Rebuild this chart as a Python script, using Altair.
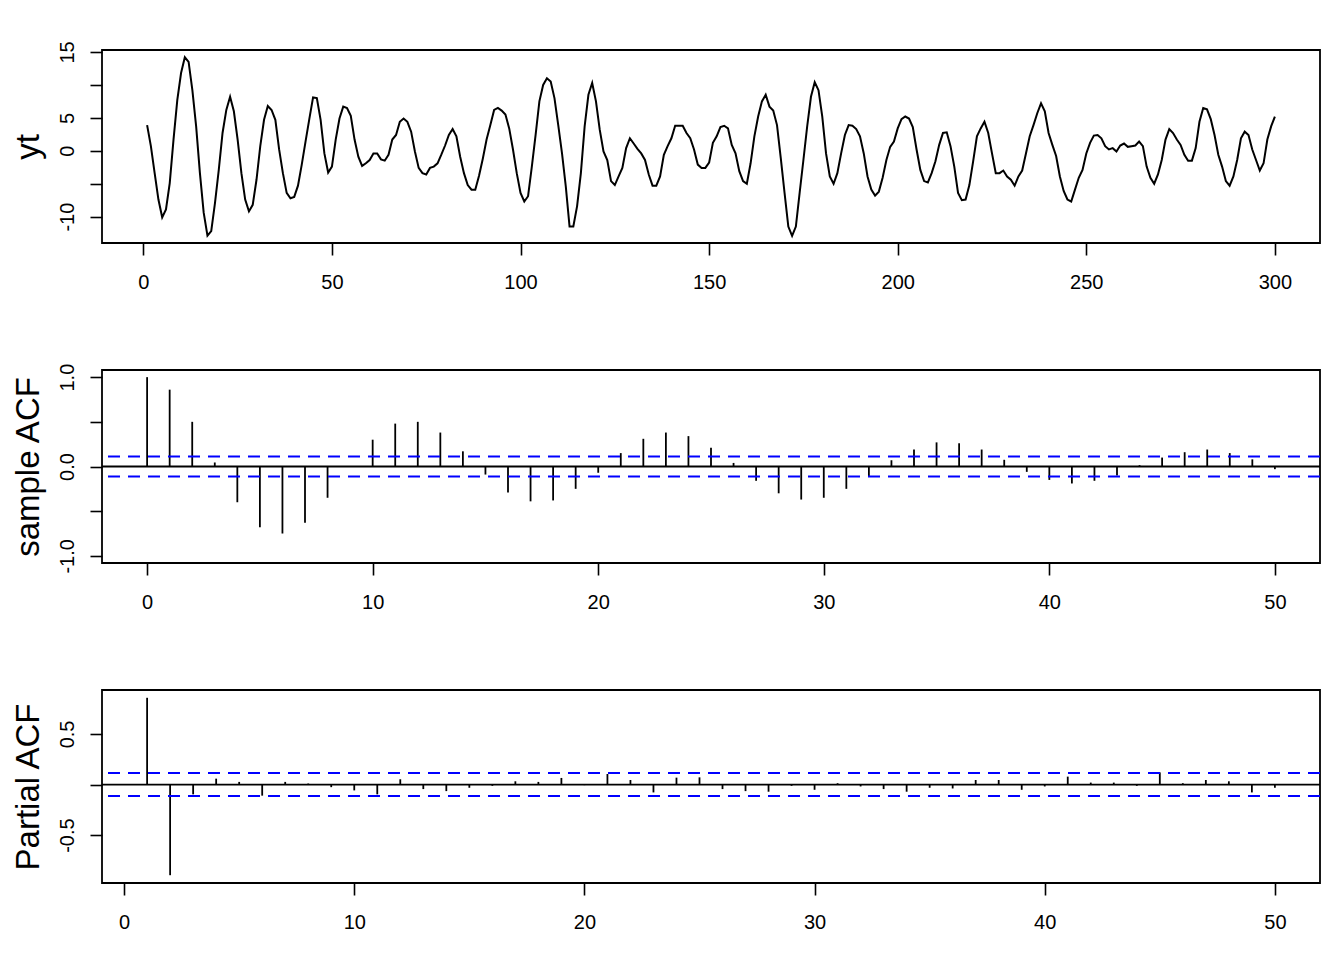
import altair as alt
import pandas as pd

# ---------------- data ----------------
yt = [
    3.9, 0.7, -3.4, -7.4, -10.1, -8.9, -4.9, 1.7, 7.7, 11.8,
    14.2, 13.5, 9.2, 3.7, -3.4, -9.4, -12.9, -12.2, -7.9, -2.9,
    2.7, 6.2, 8.2, 6.0, 1.7, -3.4, -7.4, -9.2, -8.2, -4.4,
    0.7, 4.7, 6.8, 6.2, 4.7, 0.2, -3.4, -6.4, -7.2, -7.0,
    -5.3, -2.1, 1.4, 4.8, 8.1, 8.0, 4.7, -0.4, -3.3, -2.4,
    1.7, 4.9, 6.7, 6.5, 5.3, 1.7, -0.9, -2.3, -1.9, -1.4,
    -0.4, -0.4, -1.3, -1.5, -0.6, 1.7, 2.4, 4.4, 4.9, 4.4,
    2.9, -0.1, -2.6, -3.4, -3.6, -2.6, -2.4, -1.9, -0.6, 0.8,
    2.4, 3.3, 2.2, -0.9, -3.4, -5.2, -5.9, -5.9, -3.8, -1.2,
    1.7, 3.9, 6.2, 6.5, 6.1, 5.5, 3.4, 0.2, -3.4, -6.4,
    -7.7, -6.9, -2.4, 2.4, 7.5, 10.0, 11.0, 10.5, 8.0, 3.9,
    -0.4, -5.4, -11.5, -11.5, -8.4, -3.4, 3.7, 8.5, 10.3, 7.5,
    3.2, -0.1, -1.4, -4.6, -5.2, -3.9, -2.6, 0.4, 1.9, 1.1,
    0.3, -0.4, -1.4, -3.6, -5.3, -5.3, -3.9, -0.6, 0.7, 1.9,
    3.8, 3.8, 3.8, 2.7, 1.9, 0.2, -2.1, -2.6, -2.6, -1.8,
    1.2, 2.2, 3.6, 3.8, 3.4, 0.9, -0.4, -3.1, -4.6, -5.0,
    -1.9, 2.2, 5.2, 7.5, 8.5, 6.7, 6.1, 3.9, -1.1, -6.4,
    -11.5, -12.9, -11.5, -6.4, -1.4, 3.7, 8.2, 10.4, 9.2, 5.2,
    -0.4, -3.9, -5.0, -3.4, -0.4, 2.4, 3.9, 3.8, 3.3, 2.2,
    -0.4, -3.9, -5.9, -6.8, -6.2, -4.1, -1.4, 0.6, 1.4, 3.4,
    4.8, 5.2, 4.9, 3.6, 0.2, -2.9, -4.6, -4.8, -3.4, -1.6,
    0.9, 2.7, 2.8, 0.7, -2.4, -6.4, -7.5, -7.4, -5.2, -1.6,
    2.2, 3.4, 4.4, 2.7, -0.4, -3.4, -3.4, -3.0, -3.9, -4.4,
    -5.3, -3.9, -3.0, -0.4, 2.2, 3.9, 5.7, 7.2, 6.0, 2.7,
    0.9, -0.8, -3.9, -6.1, -7.4, -7.7, -5.9, -4.1, -2.9, -0.4,
    1.2, 2.3, 2.4, 1.9, 0.7, 0.2, 0.4, -0.1, 0.8, 1.1,
    0.6, 0.7, 0.8, 1.4, 0.7, -2.4, -4.1, -5.0, -3.6, -1.4,
    1.7, 3.3, 2.7, 1.7, 0.9, -0.6, -1.5, -1.5, 0.4, 4.4,
    6.5, 6.3, 4.8, 2.4, -0.6, -2.4, -4.6, -5.3, -3.9, -1.4,
    1.9, 2.9, 2.4, 0.2, -1.4, -3.0, -1.9, 1.7, 3.7, 5.2,
]
time_idx = list(range(1, len(yt) + 1))

acf_lag = list(range(0, 51))
acf_val = [
    1.0, 0.86, 0.50, 0.045, -0.40, -0.68, -0.75, -0.63, -0.35, 0.005,
    0.30, 0.48, 0.50, 0.38, 0.17, -0.09, -0.29, -0.39, -0.38, -0.25,
    -0.07, 0.15, 0.31, 0.38, 0.34, 0.21, 0.04, -0.16, -0.30, -0.37,
    -0.35, -0.25, -0.11, 0.07, 0.19, 0.27, 0.26, 0.19, 0.075, -0.06,
    -0.15, -0.19, -0.16, -0.10, 0.015, 0.10, 0.16, 0.19, 0.15, 0.08,
    -0.03,
]

pacf_lag = list(range(1, 51))
pacf_val = [
    0.857, -0.896, -0.097, 0.058, 0.026, -0.11, 0.026, 0.01, -0.026, -0.058,
    -0.097, 0.052, -0.045, -0.065, -0.032, -0.013, 0.032, 0.026, 0.065, -0.006,
    0.104, 0.045, -0.078, 0.068, 0.071, -0.045, -0.065, -0.071, -0.013, -0.052,
    0.013, -0.019, -0.045, -0.071, -0.032, -0.039, 0.045, 0.045, -0.052, -0.019,
    0.078, 0.019, 0.019, -0.013, 0.12, 0.013, 0.045, 0.032, -0.078, -0.032,
]

conf_band = [0.113, -0.113]
zero_line = [0.0]

ts_xticks = [0, 50, 100, 150, 200, 250, 300]
ts_yticks = [-10, -5, 0, 5, 10, 15]
ts_ylabels = ["-10", "", "0", "5", "", "15"]

acf_xticks = [0, 10, 20, 30, 40, 50]
acf_yticks = [-1.0, -0.5, 0.0, 0.5, 1.0]
acf_ylabels = ["-1.0", "", "0.0", "", "1.0"]

pacf_xticks = [0, 10, 20, 30, 40, 50]
pacf_yticks = [-0.5, 0.0, 0.5]
pacf_ylabels = ["-0.5", "", "0.5"]

titles = ["yt", "sample ACF", "Partial ACF"]

# ---------------- style ----------------
FONT = "Liberation Sans"
W, H = 1218, 193
TICK = 12
LAB = 20
TIT = 33


def label_expr(values, labels):
    expr = "''"
    for v, l in reversed(list(zip(values, labels))):
        expr = f"datum.value == {v} ? '{l}' : ({expr})"
    return expr


def x_axis(ticks):
    return alt.Axis(
        values=ticks, title=None, grid=False, domain=False,
        ticks=True, tickSize=TICK, tickWidth=1.6, tickColor="black",
        labelFont=FONT, labelFontSize=LAB, labelColor="black",
        labelPadding=17, labelFlush=False, labelOverlap=False,
    )


def y_axis(ticks, labels, title):
    return alt.Axis(
        values=ticks, labelExpr=label_expr(ticks, labels),
        title=title, grid=False, domain=False,
        ticks=True, tickSize=TICK, tickWidth=1.6, tickColor="black",
        labelFont=FONT, labelFontSize=LAB, labelColor="black",
        labelAngle=-90, labelAlign="center", labelBaseline="alphabetic",
        labelPadding=17, labelFlush=False, labelOverlap=False,
        titleFont=FONT, titleFontSize=TIT, titleFontWeight="normal",
        titleColor="black", titleAngle=-90, titleAlign="center",
        titleBaseline="alphabetic", titleX=-64, titleY=H / 2,
    )


# ---------------- time series ----------------
ts_df = pd.DataFrame({"t": time_idx, "yt": yt})
ts_chart = alt.Chart(ts_df).mark_line(color="black", strokeWidth=2).encode(
    x=alt.X("t:Q", scale=alt.Scale(domain=[-10.96, 311.96], nice=False, zero=False),
            axis=x_axis(ts_xticks)),
    y=alt.Y("yt:Q", scale=alt.Scale(domain=[-14.0, 15.3], nice=False, zero=False),
            axis=y_axis(ts_yticks, ts_ylabels, titles[0])),
).properties(width=W, height=H)


def corr_panel(lags, vals, xdom, ydom, xticks, yticks, ylabels, title):
    df = pd.DataFrame({"lag": lags, "v": vals, "z": [0.0] * len(lags)})
    xs = alt.Scale(domain=xdom, nice=False, zero=False)
    ys = alt.Scale(domain=ydom, nice=False, zero=False)
    sticks = alt.Chart(df).mark_rule(color="black", strokeWidth=1.8).encode(
        x=alt.X("lag:Q", scale=xs, axis=x_axis(xticks)),
        y=alt.Y("v:Q", scale=ys, axis=y_axis(yticks, ylabels, title)),
        y2="z:Q",
    )
    zero = alt.Chart(pd.DataFrame({"v": zero_line})).mark_rule(
        color="black", strokeWidth=1.8
    ).encode(y=alt.Y("v:Q", scale=ys))
    band = alt.Chart(pd.DataFrame({"v": conf_band})).mark_rule(
        color="#0000FF", strokeWidth=2, strokeDash=[12, 8]
    ).encode(y=alt.Y("v:Q", scale=ys))
    return alt.layer(sticks, zero, band).properties(width=W, height=H)


acf_chart = corr_panel(acf_lag, acf_val, [-2, 52], [-1.08, 1.08],
                       acf_xticks, acf_yticks, acf_ylabels, titles[1])
pacf_chart = corr_panel(pacf_lag, pacf_val, [-0.96, 51.96], [-0.973, 0.934],
                        pacf_xticks, pacf_yticks, pacf_ylabels, titles[2])

chart = alt.vconcat(ts_chart, acf_chart, pacf_chart, spacing=127, bounds="flush").properties(
    padding={"left": 3, "top": 31, "right": 10, "bottom": 4},
    background="white",
).configure_view(stroke="black", strokeWidth=1.8)

chart.save("out.html", embed_options={"renderer": "svg", "actions": False})
